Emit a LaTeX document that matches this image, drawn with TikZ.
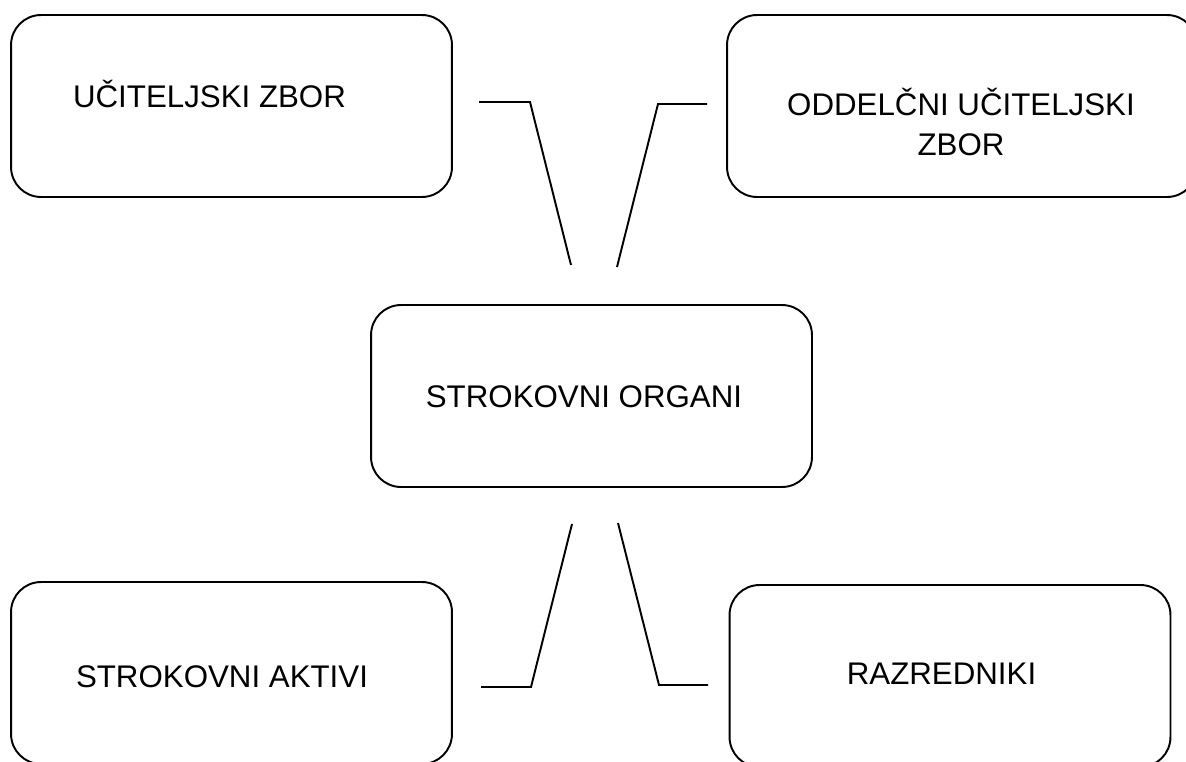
\documentclass[tikz,border=0pt]{standalone}
\usepackage{fontspec}
\setmainfont{Liberation Sans}
\begin{document}
\begin{tikzpicture}[x=0.02cm,y=-0.02cm,
		organ/.style={draw, line width=1.1pt, rounded corners=0.6cm, minimum width=8.82cm, minimum height=3.64cm, inner sep=0pt},
		organtext/.style={anchor=base, font=\fontsize{17.8}{21.3}\selectfont, align=center, inner sep=0pt},
		link/.style={line width=1.1pt}]
		\useasboundingbox (0,0) rectangle (1186,761);
		\clip (0,0) rectangle (1186,761);
		\node[organ] (zbor) at (231.5,106) {};
		\node[organ, minimum width=9.4cm] (oddzbor) at (962,106) {};
		\node[organ] (organi) at (591.5,396) {};
		\node[organ] (aktivi) at (231.5,673) {};
		\node[organ] (razredniki) at (950,676) {};
		\node[organtext] (zbortext) at (209.5,107) {UČITELJSKI ZBOR};
		\node[organtext] (oddzbortext) at (961,155) {ODDELČNI UČITELJSKI\\[1pt]ZBOR};
		\node[organtext] (organitext) at (584,407) {STROKOVNI ORGANI};
		\node[organtext] (aktivitext) at (222,687) {STROKOVNI AKTIVI};
		\node[organtext] (razrednikitext) at (941.5,684) {RAZREDNIKI};
		\coordinate (L1a) at (479,102);
		\coordinate (L1b) at (530,102);
		\coordinate (L1c) at (571,265);
		\coordinate (L2a) at (707,104);
		\coordinate (L2b) at (658,104);
		\coordinate (L2c) at (617,267);
		\coordinate (L3a) at (481,687);
		\coordinate (L3b) at (531,687);
		\coordinate (L3c) at (572,524);
		\coordinate (L4a) at (708,685);
		\coordinate (L4b) at (659,685);
		\coordinate (L4c) at (618,523);
		\draw [link] (L1a) -- (L1b) -- (L1c);
		\draw [link] (L2a) -- (L2b) -- (L2c);
		\draw [link] (L3a) -- (L3b) -- (L3c);
		\draw [link] (L4a) -- (L4b) -- (L4c);
	\end{tikzpicture}
\end{document}
